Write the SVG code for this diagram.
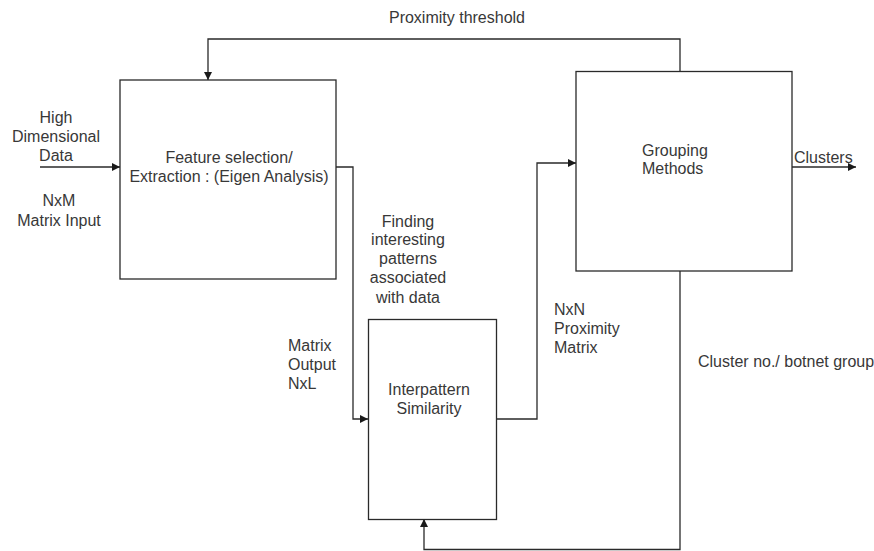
<svg xmlns="http://www.w3.org/2000/svg" width="874" height="551" viewBox="0 0 874 551">
  <style>
    .box { fill: #ffffff; stroke: #2a2a2a; stroke-width: 1.3; }
    .wire { fill: none; stroke: #2a2a2a; stroke-width: 1.3; }
    text { font-family: "Liberation Sans", Arial, sans-serif; font-size: 16px; fill: #383838; }
    .mid { text-anchor: middle; }
  </style>
  <defs>
    <marker id="arrow" viewBox="0 0 10 10" refX="10" refY="5" markerWidth="8" markerHeight="8" markerUnits="userSpaceOnUse" orient="auto">
      <path d="M0,0 L10,5 L0,10 Z" fill="#1a1a1a"/>
    </marker>
  </defs>
  <rect width="874" height="551" fill="#ffffff"/>

  <!-- connectors -->
  <g id="connectors">
    <!-- input into feature selection -->
    <line class="wire" x1="40" y1="167" x2="120" y2="167" marker-end="url(#arrow)"/>
    <!-- proximity threshold feedback -->
    <polyline class="wire" points="680,71 680,39 208,39 208,80" marker-end="url(#arrow)"/>
    <!-- feature selection to interpattern similarity -->
    <polyline class="wire" points="336,167 353,167 353,419 368,419" marker-end="url(#arrow)"/>
    <!-- interpattern similarity to grouping -->
    <polyline class="wire" points="497,419 537,419 537,163 576,163" marker-end="url(#arrow)"/>
    <!-- clusters output -->
    <line class="wire" x1="792" y1="167" x2="856" y2="167" marker-end="url(#arrow)"/>
    <!-- cluster no. feedback -->
    <polyline class="wire" points="680,271 680,549.5 424,549.5 424,519" marker-end="url(#arrow)"/>
  </g>

  <g id="feature-selection">
    <rect class="box" x="120" y="80" width="216" height="199"/>
    <text class="mid" x="229" y="163">Feature selection/</text>
    <text class="mid" x="229" y="182">Extraction : (Eigen Analysis)</text>
  </g>

  <g id="interpattern-similarity">
    <rect class="box" x="368.5" y="319.5" width="128" height="200"/>
    <text class="mid" x="429" y="395">Interpattern</text>
    <text class="mid" x="429" y="414">Similarity</text>
  </g>

  <g id="grouping-methods">
    <rect class="box" x="576" y="71.5" width="216" height="199.5"/>
    <text x="642" y="156">Grouping</text>
    <text x="642" y="174">Methods</text>
  </g>

  <g id="labels">
    <text class="mid" x="457" y="23">Proximity threshold</text>
    <text class="mid" x="56" y="123">High</text>
    <text class="mid" x="56" y="142">Dimensional</text>
    <text class="mid" x="56" y="161">Data</text>
    <text class="mid" x="59" y="206">NxM</text>
    <text class="mid" x="59" y="225.5">Matrix Input</text>
    <text class="mid" x="408" y="226.5">Finding</text>
    <text class="mid" x="408" y="245">interesting</text>
    <text class="mid" x="408" y="264">patterns</text>
    <text class="mid" x="408" y="283">associated</text>
    <text class="mid" x="408" y="302.5">with data</text>
    <text x="288" y="351">Matrix</text>
    <text x="288" y="370">Output</text>
    <text x="288" y="389">NxL</text>
    <text x="554" y="315">NxN</text>
    <text x="554" y="334">Proximity</text>
    <text x="554" y="353">Matrix</text>
    <text x="794" y="163">Clusters</text>
    <text x="698" y="367">Cluster no./ botnet group</text>
  </g>
</svg>
